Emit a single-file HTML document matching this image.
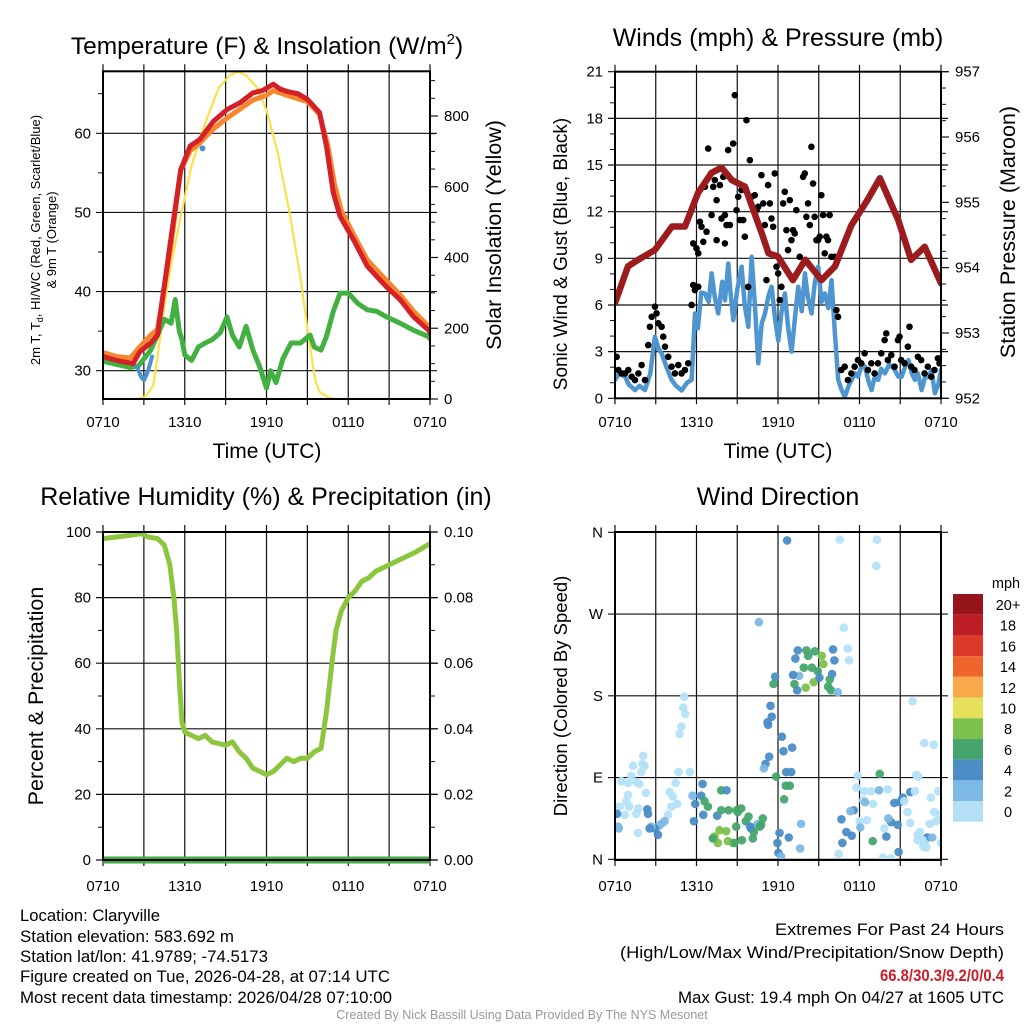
<!DOCTYPE html>
<html><head><meta charset="utf-8"><style>
html,body{margin:0;padding:0;background:#fff;}
svg{display:block;font-family:"Liberation Sans",Arial,sans-serif;}
</style></head><body>
<svg id="fig" width="1024" height="1024" viewBox="0 0 1024 1024" xmlns="http://www.w3.org/2000/svg">
<rect width="1024" height="1024" fill="#fff"/>
<g id="p1"></g>
<g id="p2"></g>
<g id="p3"></g>
<g id="p4"></g>
<g id="cbar"></g>
<text x="267" y="54" font-size="24.5" text-anchor="middle">Temperature (F) &amp; Insolation (W/m<tspan font-size="15" dy="-10">2</tspan><tspan dy="10">)</tspan></text>
<text x="778" y="46" font-size="25" text-anchor="middle">Winds (mph) &amp; Pressure (mb)</text>
<text x="266" y="505" font-size="25" text-anchor="middle">Relative Humidity (%) &amp; Precipitation (in)</text>
<text x="778" y="505" font-size="25" text-anchor="middle">Wind Direction</text>
<text x="267" y="458" font-size="21" text-anchor="middle">Time (UTC)</text>
<text x="778" y="458" font-size="21" text-anchor="middle">Time (UTC)</text>
<text transform="translate(40,240) rotate(-90)" font-size="13" text-anchor="middle">2m T, T<tspan font-size="9" dy="3">d</tspan><tspan dy="-3">, HI/WC (Red, Green, Scarlet/Blue)</tspan></text>
<text transform="translate(56,240) rotate(-90)" font-size="13" text-anchor="middle">&amp; 9m T (Orange)</text>
<text transform="translate(501,235) rotate(-90)" font-size="21.5" text-anchor="middle">Solar Insolation (Yellow)</text>
<text transform="translate(567,254) rotate(-90)" font-size="19" text-anchor="middle">Sonic Wind &amp; Gust (Blue, Black)</text>
<text transform="translate(1015,232) rotate(-90)" font-size="21.5" text-anchor="middle">Station Pressure (Maroon)</text>
<text transform="translate(43,696) rotate(-90)" font-size="21.5" text-anchor="middle">Percent &amp; Precipitation</text>
<text transform="translate(567,696) rotate(-90)" font-size="18.5" text-anchor="middle">Direction (Colored By Speed)</text>
<g font-size="16.5">
<text x="20" y="921" textLength="140" lengthAdjust="spacingAndGlyphs">Location: Claryville</text>
<text x="20" y="942" textLength="214" lengthAdjust="spacingAndGlyphs">Station elevation: 583.692 m</text>
<text x="20" y="962" textLength="248" lengthAdjust="spacingAndGlyphs">Station lat/lon: 41.9789; -74.5173</text>
<text x="20" y="982" textLength="370" lengthAdjust="spacingAndGlyphs">Figure created on Tue, 2026-04-28, at 07:14 UTC</text>
<text x="20" y="1003" textLength="372" lengthAdjust="spacingAndGlyphs">Most recent data timestamp: 2026/04/28 07:10:00</text>
</g>
<g font-size="16.5" text-anchor="end">
<text x="1004" y="935" textLength="229" lengthAdjust="spacingAndGlyphs">Extremes For Past 24 Hours</text>
<text x="1004" y="958" textLength="384" lengthAdjust="spacingAndGlyphs">(High/Low/Max Wind/Precipitation/Snow Depth)</text>
<text x="1004" y="981" fill="#c8202a" font-weight="bold" textLength="124" lengthAdjust="spacingAndGlyphs">66.8/30.3/9.2/0/0.4</text>
<text x="1004" y="1003" textLength="326" lengthAdjust="spacingAndGlyphs">Max Gust: 19.4 mph On 04/27 at 1605 UTC</text>
</g>
<text x="522" y="1019" font-size="12.5" fill="#999" text-anchor="middle">Created By Nick Bassill Using Data Provided By The NYS Mesonet</text>
</svg>
<script>
// ---------- data ----------
const xTickLabels = ["0710","1310","1910","0110","0710"];
const tempH = [0,1,2.2,2.7,3.5,4,4.9,5.7,6.4,7.1,8.1,9.1,10.1,11,11.7,12.5,13,13.5,14.3,15,15.9,16.4,16.9,17.4,18.4,19.4,20.8,21.8,22.8,23.9,24];
const tempV = [31.8,31.3,30.9,32.4,33.5,34.5,45.7,55.4,58.4,59.2,61.5,63,63.9,65.1,65.4,66.2,65.6,65.3,65.0,64.3,62.6,58.4,52.5,49.5,46.5,43.2,40.6,39,36.8,35.1,34.8];
const t9H = [0,1,2,2.6,3.5,4,5,5.7,6.4,7,8,9,10,11,12,12.5,13.5,15,15.9,16.5,17,17.5,18.4,19.4,20.8,21.8,22.8,23.9,24];
const t9V = [32.3,31.8,31.6,32.8,34.5,35.2,46,55.3,57.8,58.6,60.4,61.8,63,64.2,64.8,65.4,64.8,64,62.4,58.5,53.5,50.2,47.2,44,41.4,39.6,37.5,35.6,35.3];
const hiwcH = [2.5,2.8,3.0,3.2,3.4,3.6];
const hiwcV = [30.5,29.2,28.8,29.5,30.5,31.8];
const dewH = [0,1,2,2.6,3.5,4,4.5,5,5.3,5.6,5.8,6,6.5,7,7.5,8,8.6,9.1,9.5,10,10.5,11,11.5,12,12.3,12.7,13.2,13.8,14.5,15.2,15.5,16,16.4,16.9,17.4,18,18.7,19.4,20.1,20.8,21.8,22.8,23.9,24];
const dewV = [31.2,30.8,30.4,30.6,32.6,34.5,36.5,36,39,35,33.9,32,31.3,33,33.5,33.9,34.8,36.8,34.5,33,35.6,32.6,30.5,27.8,30,28.5,31.5,33.5,33.5,34.5,33,32.6,34.3,37.5,39.8,39.8,38.5,37.7,37.5,36.8,36,35.1,34.3,34];
const solarH = [0,2.6,3.2,3.7,4.0,4.5,5,5.7,6.5,7.5,8.5,9.3,9.9,10.5,11.3,12,12.8,13.7,14.5,15.0,15.3,15.6,15.9,16.5,17,24];
const solarV = [0,0,10,40,120,260,380,515,660,780,880,915,925,915,880,816,700,525,340,200,120,50,20,5,0,0];
const tempTicks = [30,40,50,60];
const solarTicks = [0,200,400,600,800];

const windH = [0,0.3,0.74,1.0,1.47,1.8,2.21,2.6,2.94,3.2,3.43,3.8,4.17,4.5,4.91,5.3,5.64,5.89,6.1,6.35,6.62,6.9,7.11,7.35,7.6,7.9,8.1,8.34,8.5,8.71,9.0,9.32,9.55,9.81,10.06,10.3,10.55,10.8,11.04,11.3,11.53,11.8,12.02,12.25,12.51,12.75,13.0,13.25,13.49,13.75,13.98,14.2,14.47,14.7,14.96,15.2,15.45,15.7,15.94,16.19,16.43,16.7,16.92,17.2,17.42,17.7,17.9,18.2,18.4,18.7,18.89,19.1,19.38,19.6,19.87,20.2,20.6,20.85,21.1,21.35,21.6,21.85,22.08,22.3,22.57,22.8,23.06,23.3,23.55,23.8,24];
const windV = [1.18,1.6,1.39,0.9,0.53,0.8,0.53,1.6,3.96,3.2,2.89,2.0,1.18,0.8,0.5,1.0,1.18,5.46,4.5,6.8,6.74,6.2,8.03,6.5,5.46,7.5,6.3,8.67,6.8,5.03,7.0,8.46,6.0,4.6,9.1,6.0,2.25,4.8,5.46,6.6,7.17,5.0,3.7,5.5,6.74,4.5,3.0,5.2,7.17,5.6,8.03,6.5,5.46,7.4,8.46,6.2,6.74,5.8,7.6,4.17,1.18,0.5,0.1,0.8,1.18,1.6,1.39,2.2,2.03,1.0,0.53,1.3,1.18,1.9,1.6,2.2,1.82,1.4,1.39,2.0,2.46,1.6,1.18,1.6,0.53,1.3,1.39,1.8,0.32,0.9,1.82];
const gustH = [0.12,0.25,0.49,0.74,0.98,1.23,1.47,1.72,1.96,2.21,2.45,2.57,2.70,2.94,3.06,3.19,3.43,3.55,3.68,3.92,4.17,4.41,4.66,4.9,5.15,5.39,5.64,5.76,5.88,6.13,5.76,6.0,6.13,6.25,6.37,6.5,6.62,6.74,6.86,7.11,7.23,7.35,7.48,7.48,7.72,7.84,7.97,8.09,8.09,8.21,8.33,8.46,8.7,8.82,8.95,9.07,9.19,9.31,9.44,9.56,9.68,9.8,9.93,10.05,10.29,10.42,10.54,10.78,10.91,11.03,11.15,11.27,11.4,11.52,11.64,11.76,11.89,12.01,12.13,12.25,12.38,12.5,12.62,12.74,12.87,12.99,13.11,13.23,13.35,13.6,13.85,13.97,14.09,14.21,14.34,14.46,14.58,14.7,14.83,14.95,15.07,15.19,15.32,15.44,15.56,15.68,15.8,15.93,16.17,16.3,16.42,16.66,16.91,17.15,17.4,17.64,17.89,18.13,18.38,18.62,18.87,19.11,19.36,19.6,19.85,19.97,20.09,20.34,20.58,20.83,20.95,21.07,21.32,21.56,21.68,21.81,22.05,22.3,22.54,22.79,23.03,23.28,23.52,23.77,23.89];
const gustV = [2.67,1.82,1.6,1.6,1.82,1.39,1.17,1.6,2.14,1.17,3.42,4.6,5.24,5.89,5.46,4.82,4.6,3.96,3.32,2.67,2.03,1.6,2.14,1.6,1.82,2.25,6.0,7.28,6.96,7.17,9.96,9.64,9.32,11.35,11.03,10.06,13.6,10.71,16.06,11.78,13.6,14.03,12.74,10.17,13.71,11.56,14.24,11.78,9.96,11.14,15.96,11.14,16.38,19.49,12.1,12.96,11.46,13.39,11.46,10.39,17.88,7.17,15.31,12.96,13.06,12.1,12.31,14.35,12.53,11.14,7.6,13.71,12.53,11.56,11.03,14.46,8.46,8.03,6.32,7.17,12.53,13.28,10.81,9.53,12.74,10.17,10.81,10.6,12.1,9.1,14.24,14.46,11.67,12.53,11.14,16.17,13.81,11.67,10.17,10.17,10.39,13.06,11.78,9.32,10.39,10.17,11.78,9.1,9.1,5.67,5.24,1.82,2.03,1.17,1.6,2.03,2.46,2.25,2.89,1.82,2.25,1.6,2.25,2.89,3.74,4.17,2.46,2.78,2.03,3.74,3.96,2.46,2.25,3.32,4.6,2.03,1.82,2.67,2.46,1.6,2.03,1.39,1.82,2.57,2.25];
const presH = [0,0.96,1.7,2.94,4.2,5.15,6.1,7.1,7.85,8.6,9.57,10.1,10.8,11.3,12,13.1,14,15.2,16.2,17.4,18.6,19.5,20.85,21.8,22.8,24];
const presV = [953.46,954.02,954.12,954.27,954.63,954.63,955.14,955.45,955.53,955.34,955.24,954.93,954.53,954.22,954.17,953.81,954.12,953.81,954.02,954.65,955.04,955.37,954.73,954.12,954.32,953.76];
const windTicks = [0,3,6,9,12,15,18,21];
const presTicks = [952,953,954,955,956,957];

const rhH = [0,1,2,2.8,3.3,4,4.5,4.9,5.2,5.4,5.6,5.8,6.0,6.5,7,7.5,8,9,9.5,10,10.5,11,11.5,12,12.5,13,13.5,14,14.5,15,15.5,16,16.4,16.8,17.1,17.5,18,18.5,19,19.5,20,21,22,23,24];
const rhV = [98,98.5,99,99.5,98.5,98,96,90,80,70,55,42,39,38,37,38,36,35,36,33,31,28,27,26,27,29,31,30,31,31,33,34,45,60,70,76,80,82,85,86,88,90,92,94,96.5];
const precipH = [0,6,12,18,24];
const precipV = [0,0,0,0,0];
const rhTicks = [0,20,40,60,80,100];
const precipTicks = ["0.00","0.02","0.04","0.06","0.08","0.10"];

const dirLabels = ["N","E","S","W","N"];
const dirH = [12.67,16.54,19.29,19.24,10.59,16.84,17.13,17.23,13.46,14.09,14.71,16.05,13.28,14.22,15.22,16.15,15.34,13.9,14.49,14.93,13.55,13.11,11.79,11.67,13.21,13.41,14.04,14.63,15.81,15.98,15.69,15.91,16.4,15.05,11.45,11.54,11.23,11.27,12.28,12.4,13.04,11.35,11.08,10.96,12.6,12.97,11.86,12.57,12.87,12.45,13.7,12.11,12.79,11.96,12.03,12.23,13.63,5.1,5.02,5.17,4.88,4.75,2.08,2.01,1.32,2.18,1.2,1.94,0.47,0.96,1.57,1.79,0.96,2.28,0.84,0.35,1.03,1.72,0,0.71,1.57,0.22,1.69,4.68,5.51,4.46,4.02,4.26,4.58,4.14,3.9,3.65,3.41,3.16,2.92,2.67,2.38,2.43,2.55,3.16,0.15,0.28,6.45,5.71,6.35,5.91,6.84,6.59,5.81,6.5,7.52,7.82,8.21,7.82,8.36,9.04,9.83,10.88,8.95,9.29,9.63,10.02,10.51,10.76,10.66,10.22,9.95,9.34,8.68,8.31,7.57,7.33,7.2,7.7,8.19,8.92,10.15,8.8,18.97,19.49,17.87,18.36,18.85,19.44,20.07,17.79,18.28,19.0,18.41,17.57,17.33,18.01,18.55,16.67,18.06,19.83,20.32,20.81,20.12,20.56,20.96,21.18,21.74,22.18,22.33,22.08,21.3,21.54,21.74,22.28,22.97,23.36,23.63,23.8,23.26,23.5,23.16,22.43,22.28,22.65,23.87,24,20.32,20.88,19.73,19.98,16.74,17.43,17.03,21.91,22.77,23.46,22.92,22.7,22.82,16.47];
const dirD = [351,352,352,323,261,255,232,219,230,230,229,231,221,224,224,219,215,211,211,207,202,203,201,193,193,186,189,195,198,204,190,186,184,200,169,157,151,148,135,119,123,113,105,100,96,96,91,81,81,66,39,29,24,18,7,3,12,179,167,160,146,138,114,105,103,103,92,96,86,84,85,83,71,73,64,58,58,56,50,49,50,36,29,96,96,84,74,69,61,58,49,42,39,36,34,36,55,50,34,27,50,34,83,70,70,61,58,64,42,49,48,76,76,54,54,52,47,45,54,56,42,34,39,38,36,30,36,21,18,20,18,25,23,32,31,36,23,18,20,94,92,75,75,76,77,79,65,61,63,54,53,42,43,44,35,34,41,38,45,62,63,68,74,93,91,75,64,52,40,27,24,24,42,75,68,52,39,30,21,21,49,18,1,8,2,25,18,26,30,174,128,126,13,14,17,6,2,1,128];
const dirS = [5,1,1,1,3.5,1,1,1,5,7,7,5,5,7,9,5,9,7,7,7,3,5,5,7,7,5,9,9,7,5,7,7,3,5,5,5,5,5,5,5,5,5,5,3,5,5,7,7,7,7,3,5,5,5,5,3,3,1,1,1,1,1,1,1,1,1,1,1,1,1,1,1,1,1,1,1,1,1,1,1,1,3,1,1,1,1,1,1,1,1,1,3,3,3,5,3,5,5,5,5,5,3,5,3,5,5,7,7,5,5,5,7,5,7,7,7,7,7,7,7,7,5,3,7,7,7,5,7,9,9,9,9,7,9,9,7,7,7,7,7,1,1,1,3,1,1,1,1,3,5,3,1,1,5,3,1,5,5,3,5,5,5,5,1,1,1,1,1,1,1,5,3,1,1,1,1,1,1,1,1,1,1,1,5,1,5,5,5,5,1,1,1,1,1,1,1,1,1];

const cbarLabels = ["20+","18","16","14","12","10","8","6","4","2","0"];
const cbarColors = ["#96151b","#be1d26","#de3a2c","#f0652d","#f8aa4a","#e6e05c","#7dc14c","#46a56c","#4a8dc7","#7cb9e4","#b4e1f8"];

// ---------- helpers ----------
const NS = "http://www.w3.org/2000/svg";
function el(parent, tag, attrs, txt){
  const e = document.createElementNS(NS, tag);
  for (const k in attrs) e.setAttribute(k, attrs[k]);
  if (txt !== undefined) e.textContent = txt;
  parent.appendChild(e);
  return e;
}
function lin(d0,d1,r0,r1){ return v => r0 + (v-d0)*(r1-r0)/(d1-d0); }
function pathFrom(xs, ys, sx, sy){
  return xs.map((h,i)=>(i?"L":"M")+sx(h).toFixed(1)+","+sy(ys[i]).toFixed(1)).join("");
}
function frame(g, box, sx, yTicksL, syL, labL, yTicksR, syR, labR, minorL, minorR, xlabY){
  const {x0,x1,y0,y1} = box;
  for (let h=0; h<=24; h+=3){
    const x = sx(h);
    const ln = el(g,"line",{x1:x,y1:y0-7,x2:x,y2:y1+6,stroke:"#111","stroke-width":1.2});
    
    
  }
  yTicksL.forEach((v,i)=>{
    const y = syL(v);
    const ln = el(g,"line",{x1:x0-7,y1:y,x2:x1+7,y2:y,stroke:"#111","stroke-width":1.2});
    
    
    const t = el(g,"text",{x:x0-12,y:y+5,"font-size":15,"text-anchor":"end"}, labL[i]);
    
    
  });
  minorL.forEach(v=>{ const y=syL(v); el(g,"line",{x1:x0-5,y1:y,x2:x0,y2:y,stroke:"#111","stroke-width":1}); });
  yTicksR.forEach((v,i)=>{
    const y = syR(v);
    el(g,"line",{x1:x1,y1:y,x2:x1+8,y2:y,stroke:"#111","stroke-width":1.2});
    const t = el(g,"text",{x:x1+14,y:y+5,"font-size":15}, labR[i]);
    
    
  });
  minorR.forEach(v=>{ const y=syR(v); el(g,"line",{x1:x1,y1:y,x2:x1+5,y2:y,stroke:"#111","stroke-width":1}); });
  xTickLabels.forEach((s,i)=>{
    const t = el(g,"text",{x:sx(i*6),y:xlabY,"font-size":15,"text-anchor":"middle"}, s);
    
    
  });
}
function border(g, box){
  const b = el(g,"rect",{x:box.x0,y:box.y0,width:box.x1-box.x0,height:box.y1-box.y0,fill:"none",stroke:"#000","stroke-width":2});
  
  
}
function line(g, xs, ys, sx, sy, color, w, name){
  const p = el(g,"path",{d:pathFrom(xs,ys,sx,sy),fill:"none",stroke:color,"stroke-width":w,"stroke-linejoin":"round","stroke-linecap":"round"});
  
  
}
function speedColor(s){
  const i = Math.min(10, Math.floor(s/2));
  return cbarColors[10-i];
}

// ---------- panel 1 ----------
(function(){
  const g = document.getElementById("p1");
  const box = {x0:103,x1:430,y0:71.3,y1:399};
  const sx = lin(0,24,box.x0,box.x1);
  const sy = lin(30,60,370.7,133.3);
  const sr = lin(0,800,399,116);
  const minL=[], minR=[];
  for(let v=30; v<=65; v+=5) if(v%10) minL.push(v);
  for(let v=50; v<=900; v+=50) if(v%200) minR.push(v);
  frame(g, box, sx, tempTicks, sy, tempTicks.map(String), solarTicks, sr, solarTicks.map(String), minL, minR, 427);
  const cp = el(el(g,"defs",{}),"clipPath",{id:"c1"});
  el(cp,"rect",{x:box.x0,y:box.y0-3,width:box.x1-box.x0,height:box.y1-box.y0+3});
  const cg = el(g,"g",{"clip-path":"url(#c1)"});
  line(cg, solarH, solarV, sx, sr, "#fbe14a", 2.2, "solar-insolation-line");
  line(cg, dewH, dewV, sx, sy, "#43b142", 5, "dewpoint-line");
  line(cg, t9H, t9V, sx, sy, "#f7862e", 5, "temp-9m-line");
  line(cg, tempH, tempV, sx, sy, "#d42027", 5, "temp-2m-line");
  line(cg, hiwcH, hiwcV, sx, sy, "#4b93cc", 4, "heat-index-wind-chill-line");
  const d = el(cg,"circle",{cx:sx(7.3),cy:sy(58.1),r:3,fill:"#4b93cc"});
  
  
  border(g, box);
})();

// ---------- panel 2 ----------
(function(){
  const g = document.getElementById("p2");
  const box = {x0:615,x1:941,y0:71.7,y1:398.3};
  const sx = lin(0,24,box.x0,box.x1);
  const sy = lin(0,21,398.3,71.7);
  const sp = lin(952,957,398.3,71.7);
  const minL=[], minR=[];
  for(let v=1; v<21; v++) if(v%3) minL.push(v);
  for(let v=952.25; v<957; v+=0.25) if(Math.abs(v-Math.round(v))>0.01) minR.push(v);
  frame(g, box, sx, windTicks, sy, windTicks.map(String), presTicks, sp, presTicks.map(String), minL, minR, 427);
  const cp = el(el(g,"defs",{}),"clipPath",{id:"c2"});
  el(cp,"rect",{x:box.x0,y:box.y0,width:box.x1-box.x0,height:box.y1-box.y0+4});
  const cg = el(g,"g",{"clip-path":"url(#c2)"});
  line(cg, windH, windV, sx, sy, "#4f95d0", 4.5, "sonic-wind-line");
  gustH.forEach((h,i)=>{
    const c = el(cg,"circle",{cx:sx(h),cy:sy(gustV[i]),r:3.3,fill:"#000"});
    
    
  });
  line(cg, presH, presV, sx, sp, "#9b1b1e", 6.5, "pressure-line");
  border(g, box);
})();

// ---------- panel 3 ----------
(function(){
  const g = document.getElementById("p3");
  const box = {x0:103,x1:430,y0:532,y1:860};
  const sx = lin(0,24,box.x0,box.x1);
  const sy = lin(0,100,860,532);
  const sp = lin(0,0.1,860,532);
  const minL=[], minR=[];
  for(let v=10; v<100; v+=20) minL.push(v);
  for(let v=0.01; v<0.1; v+=0.02) minR.push(v);
  frame(g, box, sx, rhTicks, sy, rhTicks.map(String), precipTicks.map(Number), sp, precipTicks, minL, minR, 891);
  const cp = el(el(g,"defs",{}),"clipPath",{id:"c3"});
  el(cp,"rect",{x:box.x0,y:box.y0-4,width:box.x1-box.x0,height:box.y1-box.y0+8});
  const cg = el(g,"g",{"clip-path":"url(#c3)"});
  line(cg, rhH, rhV, sx, sy, "#8cc63f", 5, "relative-humidity-line");
  line(cg, precipH, precipV, sx, sp, "#43aa46", 7, "precipitation-line");
  border(g, box);
})();

// ---------- panel 4 ----------
(function(){
  const g = document.getElementById("p4");
  const box = {x0:615,x1:941,y0:532,y1:860};
  const sx = lin(0,24,box.x0,box.x1);
  const sy = lin(0,360,859.3,532.3);
  const ticks = [0,90,180,270,360];
  frame(g, box, sx, ticks, sy, dirLabels, [], sy, [], [], [], 891);
  const cp = el(el(g,"defs",{}),"clipPath",{id:"c4"});
  el(cp,"rect",{x:box.x0,y:box.y0,width:box.x1-box.x0,height:box.y1-box.y0});
  const cg = el(g,"g",{"clip-path":"url(#c4)"});
  dirH.forEach((h,i)=>{
    const c = el(cg,"circle",{cx:sx(h),cy:sy(dirD[i]),r:4.3,fill:speedColor(dirS[i]),"fill-opacity":0.95});
    
    
  });
  border(g, box);
})();

// ---------- colorbar ----------
(function(){
  const g = document.getElementById("cbar");
  const t = el(g,"text",{x:1006,y:588,"font-size":14.5,"text-anchor":"middle"},"mph");
  
  
  cbarColors.forEach((c,i)=>{
    const r = el(g,"rect",{x:953,y:594+i*20.7,width:30,height:20.7,fill:c});
    
    
    const l = el(g,"text",{x:1008,y:610+i*20.7,"font-size":14.5,"text-anchor":"middle"},cbarLabels[i]);
    
    
  });
})();
</script>
</body></html>
